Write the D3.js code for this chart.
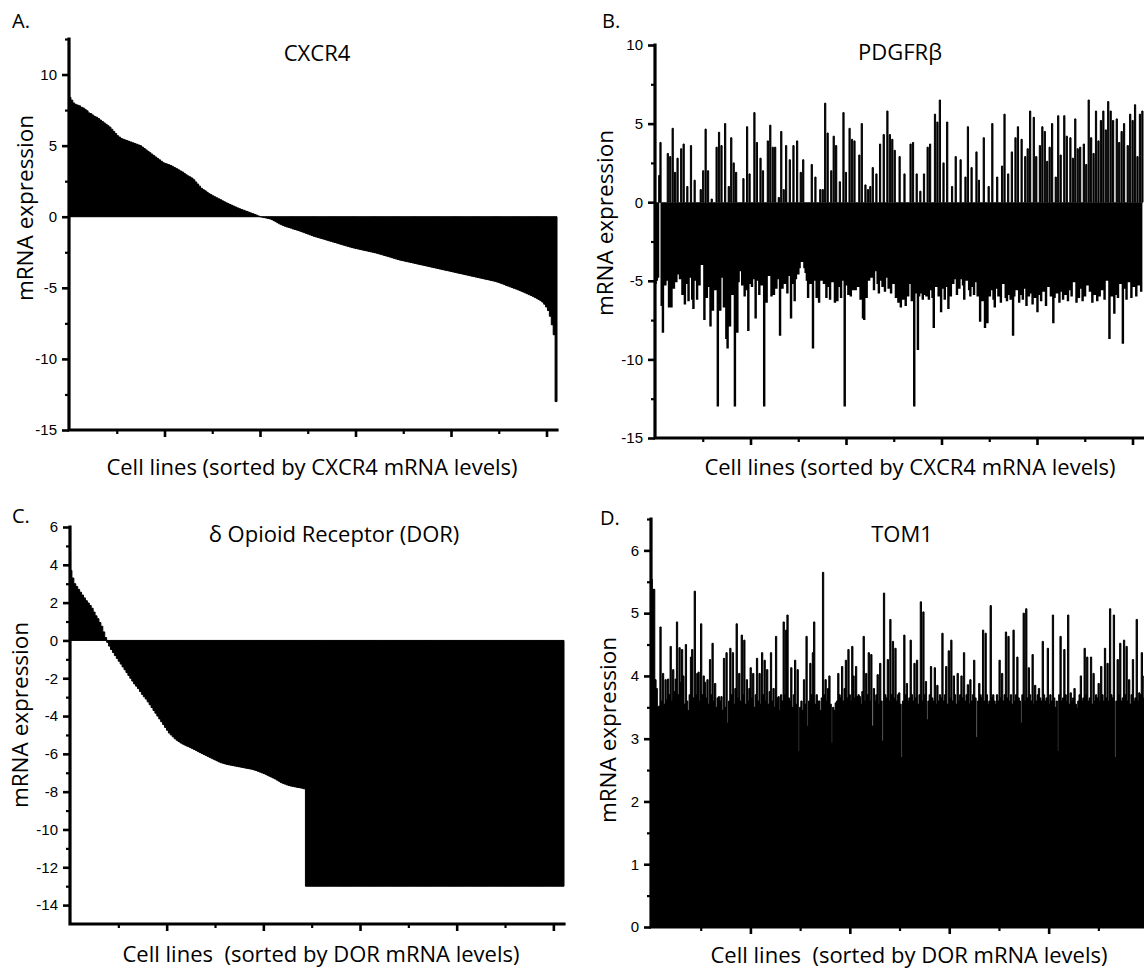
<!DOCTYPE html>
<html>
<head>
<meta charset="utf-8">
<script src="https://cdn.jsdelivr.net/npm/d3@7/dist/d3.min.js"></script>
<style>
  body { margin: 0; background: #fff; }
  svg { display: block; background: #fff; }
</style>
</head>
<body>
<svg width="1144" height="970"></svg>
<script>
// cell lines on every x axis (CCLE panel)
const nCells = 1022;
const cellTicks = [200, 400, 600, 800, 1000];
const cellMinorTicks = [100, 300, 500, 700, 900];

// A. CXCR4, sorted, one value per 4 cell lines
const cxcr4Values = [
  8.4, 8.2, 8.0, 7.9, 7.85, 7.8, 7.7, 7.65, 7.55, 7.45,
  7.3, 7.25, 7.15, 7.05, 7.0, 6.9, 6.8, 6.7, 6.6, 6.5,
  6.4, 6.3, 6.15, 6.0, 5.85, 5.7, 5.6, 5.5, 5.45, 5.4,
  5.35, 5.3, 5.25, 5.2, 5.15, 5.1, 5.05, 5.0, 4.9, 4.8,
  4.7, 4.6, 4.5, 4.4, 4.3, 4.2, 4.1, 4.0, 3.9, 3.8,
  3.75, 3.7, 3.65, 3.6, 3.52, 3.45, 3.38, 3.3, 3.22, 3.15,
  3.05, 2.95, 2.87, 2.8, 2.72, 2.6, 2.45, 2.3, 2.15, 2.0,
  1.9, 1.82, 1.72, 1.62, 1.55, 1.47, 1.4, 1.33, 1.26, 1.2,
  1.12, 1.05, 0.98, 0.92, 0.86, 0.8, 0.74, 0.68, 0.62, 0.56,
  0.51, 0.46, 0.41, 0.36, 0.31, 0.26, 0.21, 0.16, 0.11, 0.05,
  0.0, -0.03, -0.06, -0.09, -0.12, -0.15, -0.2, -0.27, -0.34, -0.42,
  -0.5, -0.56, -0.62, -0.67, -0.72, -0.76, -0.8, -0.85, -0.89, -0.93,
  -0.97, -1.02, -1.07, -1.12, -1.17, -1.22, -1.27, -1.32, -1.37, -1.41,
  -1.45, -1.49, -1.53, -1.57, -1.61, -1.65, -1.69, -1.73, -1.77, -1.81,
  -1.85, -1.89, -1.93, -1.97, -2.01, -2.05, -2.09, -2.13, -2.17, -2.2,
  -2.23, -2.26, -2.29, -2.32, -2.35, -2.38, -2.41, -2.44, -2.47, -2.5,
  -2.53, -2.56, -2.6, -2.64, -2.68, -2.72, -2.76, -2.8, -2.84, -2.88,
  -2.92, -2.96, -3.0, -3.04, -3.07, -3.1, -3.13, -3.16, -3.19, -3.22,
  -3.25, -3.28, -3.31, -3.34, -3.37, -3.4, -3.43, -3.46, -3.49, -3.52,
  -3.55, -3.58, -3.61, -3.64, -3.67, -3.7, -3.73, -3.76, -3.79, -3.82,
  -3.85, -3.88, -3.91, -3.94, -3.97, -4.0, -4.03, -4.06, -4.09, -4.12,
  -4.15, -4.18, -4.21, -4.24, -4.27, -4.3, -4.33, -4.36, -4.39, -4.42,
  -4.45, -4.48, -4.51, -4.54, -4.58, -4.62, -4.67, -4.72, -4.77, -4.83,
  -4.88, -4.93, -4.98, -5.03, -5.08, -5.13, -5.18, -5.24, -5.3, -5.36,
  -5.42, -5.48, -5.54, -5.6, -5.67, -5.74, -5.82, -5.9, -6.0, -6.15,
  -6.35, -6.6, -7.0, -7.6, -8.3, -13.0
];
const cxcr4Ticks = [-15, -10, -5, 0, 5, 10];
const cxcr4MinorTicks = [-12.5, -7.5, -2.5, 2.5, 7.5, 12.5];

// B. PDGFRb in CXCR4 order
const pdgfrbValues = [
  -5.2, -5.0, -4.8, 1.7, 3.8, -6.6, -8.3, -4.9, -5.3, -5.0,
  3.1, -6.7, 2.9, -6.7, 4.7, -5.5, 1.9, -5.1, 2.8, -4.6,
  -4.9, 3.4, -5.9, 3.7, -6.5, -5.2, 1.0, -6.3, -4.8, 3.6,
  -6.2, -6.8, 1.4, -5.0, -6.2, -4.7, -5.3, 0.8, -4.0, 2.0,
  -7.5, 4.65, -6.1, 2.0, -5.4, -7.9, 0.2, -6.9, -5.0, -5.6,
  3.5, -13, 4.45, -6.9, 3.6, -4.8, -6.7, 5.0, -8.7, -9.3,
  1.0, -7.9, 4.1, -5.9, 2.5, -13, 1.9, -8.3, -5.1, -4.4,
  -3.6, -5.3, 1.5, -6.0, -5.6, 4.8, -8.2, 1.8, -5.2, -5.4,
  -4.9, 5.7, -7.4, 3.8, -5.0, -5.9, 2.8, -5.3, 2.0, -13,
  -5.1, -6.4, 3.9, -4.7, 4.9, -6.0, 3.5, -5.9, 3.5, -5.5,
  -4.9, 0.3, -8.5, 4.5, -5.5, 0.8, -5.2, 3.6, -5.8, -4.7,
  2.7, -7.4, -5.2, 3.6, -6.3, -4.9, 3.9, -4.6, -4.2, 1.9,
  -3.8, 2.7, -4.2, -4.5, -5.0, -6.1, -4.7, -5.2, 2.4, -9.3,
  -5.0, 1.6, -6.1, -5.3, -6.4, 0.8, -5.0, 0.8, -5.2, 6.3,
  -6.1, 4.4, -5.4, -6.2, 2.0, -5.1, 4.2, -6.4, 3.6, -6.3,
  -5.4, 1.3, -6.1, -5.0, 5.7, -13, 1.9, -5.3, -5.9, 4.7,
  -6.0, 4.0, -5.6, 3.9, -5.6, -4.9, -5.4, 3.0, -6.2, 5.0,
  -7.4, -7.5, 1.1, -6.1, 0.8, -5.0, 1.0, -4.8, 2.2, -5.6,
  -4.4, 1.8, -5.2, -5.8, 3.7, -5.0, -5.4, 4.3, -5.7, -4.8,
  5.8, -5.5, 4.3, -5.8, 4.0, -5.2, 3.3, -6.1, -5.5, -6.4,
  2.9, -6.7, -5.8, -6.2, 1.8, -6.6, -5.5, -6.0, -5.2, 3.7,
  -6.3, 3.8, -13, -5.8, 1.8, -9.4, -6.0, 0.7, -5.8, -6.2,
  1.8, -5.9, -6.0, 3.5, -6.2, 3.7, -5.6, -6.1, -8.0, 5.6,
  -5.4, 5.1, -6.0, 6.5, -7.0, -5.5, 2.5, -6.2, -5.4, 5.1,
  -6.8, -5.6, -6.0, 1.0, -5.2, -4.9, 2.9, -5.9, -5.0, -5.5,
  2.7, -4.9, -5.3, -6.2, 1.6, -5.0, 4.8, -5.6, -6.0, 2.2,
  -5.4, -5.9, -5.1, 3.2, -6.0, 1.4, -7.6, -5.5, -6.3, 4.1,
  -8.0, -5.6, -7.7, 1.0, -6.0, -5.6, 5.0, -6.2, -6.7, -5.5,
  1.6, -6.0, -5.8, -6.4, 2.3, -5.2, 5.6, -6.1, -6.3, 1.8,
  -5.9, -6.2, 3.2, -8.5, -6.0, 4.1, -5.6, 4.8, -6.4, -5.9,
  4.0, -6.2, -5.5, 2.9, -6.6, 3.4, -6.0, 5.8, -5.8, -6.5,
  5.4, -6.1, 2.9, -7.0, -5.9, 3.6, -6.3, 4.8, -5.7, 4.5,
  -6.6, 2.6, -5.4, 3.5, -6.0, 5.0, -7.7, -6.1, 1.6, -5.8,
  5.5, -6.4, 3.0, -5.7, -6.2, 5.5, -5.9, 4.2, -6.3, -5.6,
  4.1, -6.0, 2.8, -5.1, 5.3, -6.4, 3.4, -6.1, 3.5, -5.5,
  -6.3, 3.7, -6.0, 2.4, -5.3, 6.5, -5.7, 4.1, -6.4, 3.1,
  -5.9, 5.8, -6.3, 3.9, -6.0, 5.2, -5.6, 5.8, -6.2, 4.6,
  -5.0, 6.4, -8.7, 5.8, -6.0, 5.2, -7.1, -5.9, 5.3, -6.1,
  3.8, -5.2, 4.5, -9.0, 5.0, -5.5, -6.2, 3.6, -5.1, 5.6,
  -6.1, 5.2, -5.4, 6.2, -6.0, 2.9, -5.3, 5.6, -5.7, 5.8
];
const pdgfrbTicks = [-15, -10, -5, 0, 5, 10];
const pdgfrbMinorTicks = [-12.5, -7.5, -2.5, 2.5, 7.5];

// C. DOR, sorted; -13 = not detected
const dorValues = [
  3.7, 3.3, 3.0, 2.85, 2.7, 2.55, 2.4, 2.25, 2.1, 1.98,
  1.85, 1.7, 1.5, 1.3, 1.15, 0.95, 0.75, 0.45, 0.15, -0.1,
  -0.3, -0.48, -0.64, -0.8, -0.95, -1.1, -1.25, -1.4, -1.55, -1.7,
  -1.85, -2.0, -2.15, -2.3, -2.42, -2.55, -2.7, -2.85, -2.98, -3.1,
  -3.25, -3.4, -3.55, -3.7, -3.85, -4.0, -4.15, -4.3, -4.45, -4.6,
  -4.75, -4.9, -5.0, -5.1, -5.2, -5.28, -5.35, -5.42, -5.48, -5.53,
  -5.58, -5.62, -5.67, -5.72, -5.77, -5.82, -5.88, -5.93, -5.98, -6.03,
  -6.08, -6.13, -6.18, -6.23, -6.28, -6.33, -6.38, -6.43, -6.47, -6.5,
  -6.53, -6.56, -6.58, -6.6, -6.62, -6.64, -6.66, -6.68, -6.7, -6.72,
  -6.74, -6.76, -6.78, -6.8, -6.82, -6.85, -6.88, -6.92, -6.96, -7.0,
  -7.04, -7.08, -7.13, -7.18, -7.23, -7.28, -7.33, -7.39, -7.45, -7.52,
  -7.56, -7.6, -7.64, -7.67, -7.7, -7.72, -7.74, -7.76, -7.78, -7.8,
  -7.82, -7.85,
  -13, -13, -13, -13, -13, -13, -13, -13, -13, -13, -13, -13, -13, -13, -13, -13, -13, -13, -13, -13,
  -13, -13, -13, -13, -13, -13, -13, -13, -13, -13, -13, -13, -13, -13, -13, -13, -13, -13, -13, -13,
  -13, -13, -13, -13, -13, -13, -13, -13, -13, -13, -13, -13, -13, -13, -13, -13, -13, -13, -13, -13,
  -13, -13, -13, -13, -13, -13, -13, -13, -13, -13, -13, -13, -13, -13, -13, -13, -13, -13, -13, -13,
  -13, -13, -13, -13, -13, -13, -13, -13, -13, -13, -13, -13, -13, -13, -13, -13, -13, -13, -13, -13,
  -13, -13, -13, -13, -13, -13, -13, -13, -13, -13, -13, -13, -13, -13, -13, -13, -13, -13, -13, -13,
  -13, -13, -13, -13, -13, -13, -13, -13, -13, -13, -13, -13, -13, -13
];
const dorTicks = [-14, -12, -10, -8, -6, -4, -2, 0, 2, 4, 6];
const dorMinorTicks = [-13, -11, -9, -7, -5, -3, -1, 1, 3, 5];

// D. TOM1 in DOR order
const tom1Values = [
  5.54, 5.38, 5.38, 3.94, 3.8, 3.5, 3.52, 4.78, 3.6, 4.04,
  3.55, 3.94, 3.62, 3.95, 3.7, 4.47, 3.6, 4.1, 3.75, 3.95,
  4.86, 3.7, 4.45, 3.9, 4.42, 4.0, 3.55, 4.5, 3.6, 3.45,
  3.7, 4.3, 4.42, 3.65, 5.35, 3.7, 4.04, 4.06, 3.6, 4.83,
  3.7, 4.0, 3.9, 3.65, 3.94, 3.55, 4.26, 3.7, 4.52, 3.6,
  3.88, 3.5, 3.65, 3.67, 3.6, 3.67, 3.45, 4.28, 3.5, 4.37,
  3.25, 3.6, 4.44, 3.7, 4.37, 3.55, 3.8, 4.83, 3.65, 4.04,
  3.6, 4.65, 3.7, 4.57, 3.55, 3.94, 3.6, 3.8, 4.13, 3.65,
  4.04, 3.5, 3.7, 4.28, 3.6, 4.04, 3.55, 4.37, 3.7, 4.25,
  3.6, 4.1, 3.55, 3.75, 4.37, 3.6, 3.8, 3.5, 4.63, 3.65,
  3.67, 3.45, 3.7, 3.6, 4.86, 3.7, 4.73, 4.97, 3.65, 3.6,
  4.13, 3.5, 3.7, 4.25, 3.55, 4.1, 2.8, 3.5, 3.6, 3.45,
  3.94, 3.55, 4.63, 3.2, 3.6, 4.2, 3.7, 4.37, 4.86, 3.55,
  3.7, 3.6, 3.6, 3.45, 3.65, 5.65, 3.7, 3.94, 3.6, 3.8,
  4.0, 3.55, 2.93, 3.5, 3.45, 3.57, 3.6, 4.04, 3.7, 3.65,
  4.15, 3.6, 3.8, 4.25, 3.65, 4.42, 3.7, 3.6, 4.47, 4.0,
  3.65, 4.15, 3.67, 3.7, 3.67, 3.55, 3.75, 4.63, 3.6, 4.04,
  3.7, 4.37, 3.6, 4.34, 3.2, 3.8, 3.6, 3.7, 4.02, 3.55,
  4.2, 3.6, 2.96, 5.32, 3.7, 3.65, 4.26, 3.6, 4.9, 3.7,
  4.55, 3.65, 4.44, 3.6, 3.7, 3.73, 3.55, 2.7, 3.6, 4.65,
  3.7, 3.88, 3.6, 3.65, 4.57, 3.7, 3.6, 4.2, 3.65, 4.25,
  3.55, 3.7, 5.18, 3.6, 5.02, 3.7, 3.91, 3.3, 3.6, 3.7,
  4.15, 3.65, 3.6, 4.13, 3.55, 3.85, 3.6, 3.7, 3.65, 4.68,
  3.6, 3.7, 4.15, 3.55, 4.4, 3.65, 4.57, 3.6, 4.0, 3.7,
  3.55, 4.04, 3.6, 3.7, 4.0, 3.65, 4.37, 3.6, 3.7, 3.86,
  3.55, 3.94, 3.6, 3.7, 4.25, 3.65, 3.02, 3.6, 3.88, 3.7,
  3.65, 4.73, 3.6, 4.68, 3.7, 3.55, 3.6, 5.12, 3.65, 3.7,
  3.6, 3.55, 3.7, 3.6, 4.25, 3.65, 4.04, 3.6, 3.7, 4.7,
  3.65, 4.63, 3.6, 3.7, 3.55, 4.73, 3.6, 3.7, 4.3, 3.65,
  3.6, 3.25, 3.7, 5.0, 3.6, 5.07, 3.65, 4.13, 3.7, 3.6,
  4.34, 3.55, 3.85, 3.6, 3.7, 3.8, 3.65, 3.6, 4.55, 3.7,
  3.6, 3.65, 4.44, 3.55, 3.7, 3.6, 4.97, 3.65, 3.5, 3.6,
  2.8, 3.7, 4.63, 3.6, 3.65, 4.42, 3.7, 3.6, 4.97, 3.55,
  3.73, 3.6, 3.65, 3.8, 3.55, 3.48, 3.6, 3.7, 4.0, 3.6,
  3.65, 4.44, 3.7, 4.3, 3.6, 3.65, 4.3, 3.55, 4.04, 3.6,
  3.7, 3.65, 3.88, 3.6, 4.15, 3.7, 3.6, 4.44, 3.65, 4.2,
  3.6, 5.07, 3.7, 3.65, 4.97, 2.7, 3.6, 4.26, 3.7, 4.52,
  3.6, 3.65, 4.57, 3.7, 4.47, 3.6, 3.94, 3.55, 3.7, 4.26,
  3.6, 3.65, 4.9, 3.6, 3.73, 3.7, 4.37, 3.65, 4.0, 3.7,
  4.2, 3.6, 3.8, 4.5, 3.65, 3.9, 3.6, 4.1, 3.7, 3.55
];
const tom1Ticks = [0, 1, 2, 3, 4, 5, 6];
const tom1MinorTicks = [0.5, 1.5, 2.5, 3.5, 4.5, 5.5, 6.5];

const labelFont = "'Open Sans', 'Noto Sans', sans-serif";
const tickFont = "'Liberation Sans', Arial, sans-serif";

const svg = d3.select("svg");

svg.append("rect")
    .attr("width", 1144)
    .attr("height", 970)
    .attr("fill", "#fff");

// all bars of one sign in a single path, so neighbouring bars merge without seams
function barsPath(values, x, y, binSize, keep, spread) {
    const path = d3.path();
    values.forEach((v, i) => {
        if (!keep(v)) return;
        const x0 = x((i - spread) * binSize);
        const x1 = x((i + 1 + spread) * binSize);
        const y0 = Math.min(y(v), y(0));
        path.rect(x0, y0, x1 - x0, Math.abs(y(v) - y(0)));
    });
    return path.toString();
}

function styleTicks(sel, width) {
    sel.select(".domain").remove();
    sel.selectAll(".tick line")
        .attr("stroke", "#000")
        .style("stroke-width", width + "px");
}

function drawPanel(p) {
    const x = d3.scaleLinear().domain([0, nCells]).range([p.left, p.right]);
    const y = d3.scaleLinear().domain(p.yDomain).range([p.bottom, p.top]);
    const binSize = nCells / p.values.length;

    const g = svg.append("g").attr("id", "panel" + p.letter);

    g.append("path")
        .attr("fill", "#000")
        .attr("stroke", "#000")
        .attr("stroke-width", 1)
        .attr("d", barsPath(p.values, x, y, binSize, v => v >= 0, 0));

    g.append("path")
        .attr("fill", "#000")
        .attr("stroke", "#000")
        .attr("stroke-width", p.negSpread > 0 ? 0 : 1)
        .attr("d", barsPath(p.values, x, y, binSize, v => v < 0, p.negSpread));

    // y axis ticks and labels
    g.append("g")
        .attr("transform", `translate(${p.left},0)`)
        .call(d3.axisLeft(y).tickValues(p.yMinor).tickSize(4).tickFormat(""))
        .call(styleTicks, 2.2);

    const yAxis = g.append("g")
        .attr("transform", `translate(${p.left},0)`)
        .call(d3.axisLeft(y).tickValues(p.yTicks).tickSize(7).tickPadding(5).tickFormat(d => String(d)))
        .call(styleTicks, 2.6);
    yAxis.selectAll("text")
        .attr("font-family", tickFont)
        .attr("font-size", 15)
        .attr("fill", "#000");

    // x axis ticks, no labels
    g.append("g")
        .attr("transform", `translate(0,${p.bottom})`)
        .call(d3.axisBottom(x).tickValues(cellMinorTicks).tickSize(4).tickFormat(""))
        .call(styleTicks, 2.2);

    g.append("g")
        .attr("transform", `translate(0,${p.bottom})`)
        .call(d3.axisBottom(x).tickValues(cellTicks).tickSize(7).tickFormat(""))
        .call(styleTicks, 2.6);

    // thick axis lines
    g.append("path")
        .attr("fill", "none")
        .attr("stroke", "#000")
        .style("stroke-width", "3.2px")
        .attr("stroke-linecap", "square")
        .attr("d", `M${p.left},${p.top}V${p.bottom}H${p.right}`);

    // texts
    g.append("text")
        .attr("x", p.letterPos[0])
        .attr("y", p.letterPos[1])
        .attr("font-family", labelFont)
        .attr("font-size", 20)
        .text(p.letter + ".");

    g.append("text")
        .attr("x", p.titlePos[0])
        .attr("y", p.titlePos[1])
        .attr("text-anchor", "middle")
        .attr("font-family", labelFont)
        .attr("font-size", 22)
        .text(p.title);

    g.append("text")
        .attr("x", p.xLabelPos[0])
        .attr("y", p.xLabelPos[1])
        .attr("text-anchor", "middle")
        .attr("font-family", labelFont)
        .attr("font-size", 22)
        .style("white-space", "pre")
        .text(p.xLabel);

    g.append("text")
        .attr("transform", `translate(${p.yLabelPos[0]},${p.yLabelPos[1]}) rotate(-90)`)
        .attr("text-anchor", "middle")
        .attr("font-family", labelFont)
        .attr("font-size", 22.5)
        .text("mRNA expression");
}

const panels = [
    {
        letter: "A", title: "CXCR4", values: cxcr4Values, negSpread: 0,
        xLabel: "Cell lines (sorted by CXCR4 mRNA levels)",
        left: 69, right: 557, top: 39, bottom: 430,
        yDomain: [-15, 12.5], yTicks: cxcr4Ticks, yMinor: cxcr4MinorTicks,
        letterPos: [12, 28], titlePos: [317, 61], xLabelPos: [312, 475], yLabelPos: [33, 208]
    },
    {
        letter: "B", title: "PDGFRβ", values: pdgfrbValues, negSpread: 0.5,
        xLabel: "Cell lines (sorted by CXCR4 mRNA levels)",
        left: 655, right: 1143, top: 45, bottom: 438,
        yDomain: [-15, 10], yTicks: pdgfrbTicks, yMinor: pdgfrbMinorTicks,
        letterPos: [602, 28], titlePos: [900, 60], xLabelPos: [910, 475], yLabelPos: [613, 223]
    },
    {
        letter: "C", title: "δ Opioid Receptor (DOR)", values: dorValues, negSpread: 0,
        xLabel: "Cell lines  (sorted by DOR mRNA levels)",
        left: 70, right: 564, top: 527, bottom: 924,
        yDomain: [-15, 6], yTicks: dorTicks, yMinor: dorMinorTicks,
        letterPos: [12, 523], titlePos: [334, 542], xLabelPos: [321, 962], yLabelPos: [28, 715]
    },
    {
        letter: "D", title: "TOM1", values: tom1Values, negSpread: 0,
        xLabel: "Cell lines  (sorted by DOR mRNA levels)",
        left: 651, right: 1159, top: 519, bottom: 927,
        yDomain: [0, 6.5], yTicks: tom1Ticks, yMinor: tom1MinorTicks,
        letterPos: [600, 525], titlePos: [902, 542], xLabelPos: [909, 963], yLabelPos: [616, 730]
    }
];

panels.forEach(drawPanel);
</script>
</body>
</html>
